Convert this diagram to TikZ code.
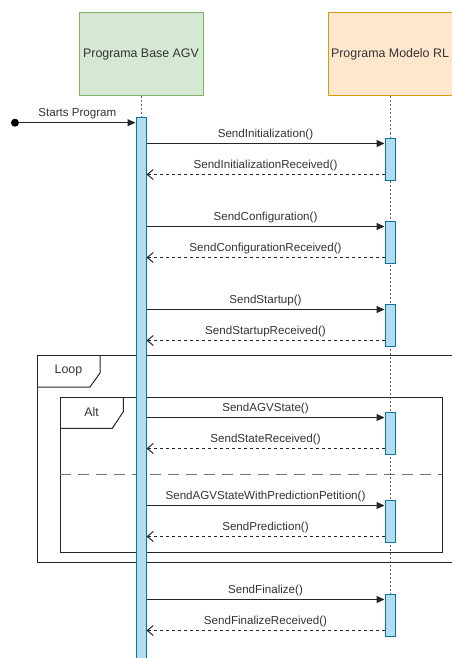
\documentclass[tikz,border=0pt]{standalone}
\usepackage{fontspec}
\setmainfont{Liberation Sans}
\usetikzlibrary{arrows.meta,positioning}

\definecolor{agvfill}{HTML}{D5E8D4}
\definecolor{agvline}{HTML}{82B366}
\definecolor{rlfill}{HTML}{FFE6CC}
\definecolor{rlline}{HTML}{D79B00}
\definecolor{actfill}{HTML}{B1DDF0}
\definecolor{actline}{HTML}{10739E}
\definecolor{txt}{HTML}{333333}

\begin{document}
\begin{tikzpicture}[x=1pt, y=-1pt,
  head/.style={draw, line width=1pt, minimum width=124pt, minimum height=83pt, inner sep=0pt, font=\fontsize{12.4}{14}\selectfont, text=txt},
  actbar/.style={draw=actline, fill=actfill, line width=1pt, minimum width=10pt, inner sep=0pt},
  life/.style={draw=black!60, line width=1pt, dash pattern=on 2pt off 2pt},
  msg/.style={-{Triangle[length=8pt,width=7pt]}, line width=1pt, draw=black!85},
  ret/.style={-{Straight Barb[length=6pt,width=10pt]}, line width=1pt, draw=black!85, dash pattern=on 3pt off 3pt},
  lbl/.style={font=\fontsize{11.6}{13}\selectfont, text=txt, above, inner sep=3pt},
  frame/.style={draw=black!85, line width=1pt},
  dotb/.style={circle, fill=black, minimum size=8pt, inner sep=0pt}]

\useasboundingbox (0,0) rectangle (451,658);

% lifelines
\node[head, fill=agvfill, draw=agvline] (agv) at (141,54.5) {Programa Base AGV};
\node[head, fill=rlfill, draw=rlline] (rl) at (390,54.5) {Programa Modelo RL};
\coordinate (rlend) at (390,635);
\draw[life] (agv.south) -- (141,117);
\draw[life] (rl.south) -- (rlend);

% frames
\draw[frame] (37,355.3) rectangle (470,562.7);
\draw[frame] (37,387) -- (90,387) -- (100,373) -- (100,355.3);
\node[font=\fontsize{12.4}{14}\selectfont, text=txt] (loop) at (68.5,371) {Loop};
\draw[frame] (60,397) rectangle (442,552.3);
\draw[frame] (60,428.3) -- (112.3,428.3) -- (123.3,411.7) -- (123.3,397);
\node[font=\fontsize{12.4}{14}\selectfont, text=txt] (alt) at (91.5,412) {Alt};
\draw[draw=black!55, line width=1.5pt, dash pattern=on 11pt off 7pt] (60,474.5) -- (442,474.5);

% activations
\node[actbar, anchor=north, minimum height=545pt] (actL) at (141,117) {};
\node[actbar, anchor=north, minimum height=41.5pt] (act1) at (390,138) {};
\node[actbar, anchor=north, minimum height=41.5pt] (act2) at (390,221) {};
\node[actbar, anchor=north, minimum height=41.5pt] (act3) at (390,304) {};
\node[actbar, anchor=north, minimum height=41.5pt] (act4) at (390,412) {};
\node[actbar, anchor=north, minimum height=41.5pt] (act5) at (390,500) {};
\node[actbar, anchor=north, minimum height=41.5pt] (act6) at (390,594) {};

% start
\node[dotb] (start) at (15,122.7) {};
\draw[msg] (start) -- (start -| actL.west) node[lbl, midway] {Starts Program};

% messages
\draw[msg] ([yshift=-5.5pt]act1.north -| actL.east) -- ([yshift=-5.5pt]act1.north west) node[lbl, midway] {SendInitialization()};
\draw[ret] ([yshift=6pt]act1.south west) -- ([yshift=6pt]act1.south -| actL.east) node[lbl, midway] {SendInitializationReceived()};

\draw[msg] ([yshift=-5.5pt]act2.north -| actL.east) -- ([yshift=-5.5pt]act2.north west) node[lbl, midway] {SendConfiguration()};
\draw[ret] ([yshift=6pt]act2.south west) -- ([yshift=6pt]act2.south -| actL.east) node[lbl, midway] {SendConfigurationReceived()};

\draw[msg] ([yshift=-5.5pt]act3.north -| actL.east) -- ([yshift=-5.5pt]act3.north west) node[lbl, midway] {SendStartup()};
\draw[ret] ([yshift=6pt]act3.south west) -- ([yshift=6pt]act3.south -| actL.east) node[lbl, midway] {SendStartupReceived()};

\draw[msg] ([yshift=-5.5pt]act4.north -| actL.east) -- ([yshift=-5.5pt]act4.north west) node[lbl, midway] {SendAGVState()};
\draw[ret] ([yshift=6pt]act4.south west) -- ([yshift=6pt]act4.south -| actL.east) node[lbl, midway] {SendStateReceived()};

\draw[msg] ([yshift=-5.5pt]act5.north -| actL.east) -- ([yshift=-5.5pt]act5.north west) node[lbl, midway] {SendAGVStateWithPredictionPetition()};
\draw[ret] ([yshift=6pt]act5.south west) -- ([yshift=6pt]act5.south -| actL.east) node[lbl, midway] {SendPrediction()};

\draw[msg] ([yshift=-5.5pt]act6.north -| actL.east) -- ([yshift=-5.5pt]act6.north west) node[lbl, midway] {SendFinalize()};
\draw[ret] ([yshift=6pt]act6.south west) -- ([yshift=6pt]act6.south -| actL.east) node[lbl, midway] {SendFinalizeReceived()};

\end{tikzpicture}
\end{document}
